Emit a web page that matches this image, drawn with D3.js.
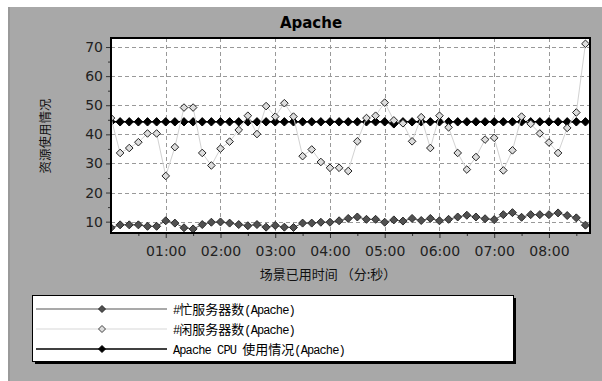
<!DOCTYPE html>
<html><head><meta charset="utf-8">
<script src="https://cdn.jsdelivr.net/npm/d3@7"></script>
<style>html,body{margin:0;padding:0;background:#fff;}svg{display:block;}</style>
</head><body>
<script>
// ---- data (time in seconds, step 10 s) ----
const times = d3.range(0, 530, 10);
const busyServers = [7.9, 8.9, 8.9, 8.9, 8.4, 8.4, 10.3, 9.5, 7.9, 7.5,
  9.0, 9.8, 9.9, 9.5, 9.0, 8.6, 9.0, 8.1, 8.7, 8.1,
  8.0, 9.5, 9.5, 9.8, 9.8, 10.3, 11.1, 11.6, 10.8, 10.8,
  9.8, 10.6, 10.2, 11.1, 10.4, 11.1, 10.3, 10.8, 11.6, 12.2,
  11.6, 11.0, 10.7, 12.4, 13.1, 11.5, 12.4, 12.4, 12.4, 13.0,
  12.1, 11.3, 8.8];
const idleServers = [45.6, 33.6, 35.3, 37.3, 40.3, 40.3, 25.7, 35.6, 49.2, 49.2,
  33.6, 29.3, 35.1, 37.5, 41.5, 46.4, 40.1, 49.7, 46.1, 50.7,
  46.1, 32.5, 34.8, 30.5, 28.5, 28.5, 27.4, 37.6, 45.6, 46.4,
  50.9, 44.8, 43.8, 37.6, 45.9, 35.3, 46.4, 42.4, 33.6, 27.9,
  32.2, 38.2, 38.8, 27.6, 34.5, 46.1, 43.6, 40.3, 37.2, 33.6,
  42.2, 47.5, 71.1];
const cpuUsage = [44.3, 44.3, 44.3, 44.3, 44.3, 44.3, 44.3, 44.3, 44.3, 44.3,
  44.3, 44.3, 44.3, 44.3, 44.3, 44.3, 44.3, 44.3, 44.3, 44.3,
  44.3, 44.3, 44.3, 44.3, 44.3, 44.3, 44.3, 44.3, 44.3, 44.3,
  44.3, 43.6, 44.3, 44.3, 44.3, 44.3, 44.3, 44.3, 44.3, 44.3,
  44.3, 44.3, 44.3, 44.3, 44.3, 44.3, 44.3, 44.3, 44.3, 44.3,
  44.3, 44.3, 44.3];
const yTicks = [10, 20, 30, 40, 50, 60, 70];
const xTicks = [60, 120, 180, 240, 300, 360, 420, 480];
const xTickLabels = ["01:00", "02:00", "03:00", "04:00", "05:00", "06:00", "07:00", "08:00"];
const seriesNames = ["#忙服务器数", "#闲服务器数", "Apache CPU 使用情况"];
const chartTitle = "Apache";
const xTitle = "场景已用时间 （分:秒）";
const yTitle = "资源使用情况";

const W = 602, H = 381;
const plot = {l: 111, t: 38, r: 590, b: 233};

const svg = d3.select("body").append("svg").attr("width", W).attr("height", H);

// background
svg.append("rect").attr("width", W).attr("height", H).attr("fill", "#fff");
svg.append("rect").attr("x", 8).attr("y", 7).attr("width", W - 8).attr("height", H - 7).attr("fill", "#a8a8a8");
svg.append("rect").attr("x", 8).attr("y", 7).attr("width", 2).attr("height", H - 7).attr("fill", "#9a9a9a");

const x = d3.scaleLinear().domain([0, 525]).range([plot.l, plot.r]);
const y = d3.scaleLinear().domain([6.1, 73.1]).range([plot.b, plot.t]);

// title
svg.append("text").attr("x", 311).attr("y", 28).attr("text-anchor", "middle")
  .attr("font-family", "DejaVu Sans").attr("font-weight", "bold").attr("font-size", 15)
  .attr("fill", "#000").text(chartTitle);

// plot background
svg.append("rect").attr("x", plot.l).attr("y", plot.t).attr("width", plot.r - plot.l).attr("height", plot.b - plot.t).attr("fill", "#fff");

// grid
const grid = svg.append("g").attr("stroke", "#999").attr("stroke-dasharray", "4,3").attr("stroke-width", 1);
yTicks.forEach(v => grid.append("line").attr("x1", plot.l).attr("x2", plot.r)
  .attr("y1", Math.round(y(v)) + 0.5).attr("y2", Math.round(y(v)) + 0.5));
xTicks.forEach(v => grid.append("line").attr("y1", plot.t).attr("y2", plot.b)
  .attr("x1", Math.round(x(v)) + 0.5).attr("x2", Math.round(x(v)) + 0.5));

// axes
const yAxis = d3.axisLeft(y).tickValues(yTicks).tickSize(5).tickPadding(3);
const gy = svg.append("g").attr("transform", `translate(${plot.l},0)`).call(yAxis);
gy.select(".domain").remove();
gy.selectAll("text").attr("font-family", "DejaVu Sans").attr("font-size", 14).attr("fill", "#222");
gy.selectAll("line").attr("stroke", "#333");
const yMinor = svg.append("g").attr("transform", `translate(${plot.l},0)`)
  .call(d3.axisLeft(y).tickValues(d3.range(15, 75, 10)).tickSize(3).tickFormat(""));
yMinor.select(".domain").remove();
yMinor.selectAll("line").attr("stroke", "#333");

const xAxis = d3.axisBottom(x).tickValues(xTicks).tickFormat((d, i) => xTickLabels[i]).tickSize(5).tickPadding(8);
const gx = svg.append("g").attr("transform", `translate(0,${plot.b})`).call(xAxis);
gx.select(".domain").remove();
gx.selectAll("text").attr("font-family", "DejaVu Sans").attr("font-size", 14).attr("fill", "#222");
gx.selectAll("line").attr("stroke", "#333");
const xMinor = svg.append("g").attr("transform", `translate(0,${plot.b})`)
  .call(d3.axisBottom(x).tickValues(d3.range(30, 525, 60)).tickSize(3).tickFormat(""));
xMinor.select(".domain").remove();
xMinor.selectAll("line").attr("stroke", "#333");

// axis titles
svg.append("text").attr("x", 328).attr("y", 279).attr("text-anchor", "middle")
  .attr("font-family", "Noto Sans CJK SC").attr("font-size", 13).attr("fill", "#111").text(xTitle);
svg.append("text").attr("transform", "translate(50,136) rotate(-90)").attr("text-anchor", "middle")
  .attr("font-family", "Noto Sans CJK SC").attr("font-size", 12.5).attr("fill", "#111").text(yTitle);

// clip
svg.append("clipPath").attr("id", "clip").append("rect")
  .attr("x", plot.l).attr("y", plot.t).attr("width", plot.r - plot.l).attr("height", plot.b - plot.t);
const g = svg.append("g").attr("clip-path", "url(#clip)");

const diamond = r => `M0,${-r}L${r},0L0,${r}L${-r},0Z`;
const line = d3.line().x((d, i) => x(times[i])).y(d => y(d));

function drawSeries(vals, lineColor, lineW, fill, stroke, r) {
  g.append("path").datum(vals).attr("d", line).attr("fill", "none")
    .attr("stroke", lineColor).attr("stroke-width", lineW);
  g.append("g").selectAll("path").data(vals).join("path")
    .attr("transform", (d, i) => `translate(${x(times[i])},${y(d)})`)
    .attr("d", diamond(r)).attr("fill", fill).attr("stroke", stroke).attr("stroke-width", 1);
}
drawSeries(cpuUsage, "#000", 1.5, "#000", "#000", 4.2);
drawSeries(busyServers, "#555", 1, "#505050", "#2a2a2a", 4);
drawSeries(idleServers, "#d2d2d2", 1, "#dcdcdc", "#222", 3.8);

// plot border
svg.append("rect").attr("x", plot.l).attr("y", plot.t).attr("width", plot.r - plot.l).attr("height", plot.b - plot.t)
  .attr("fill", "none").attr("stroke", "#000").attr("stroke-width", 2);

// legend
const lg = {x: 32, y: 295, w: 481, h: 66};
svg.append("rect").attr("x", lg.x + 3).attr("y", lg.y + 3).attr("width", lg.w).attr("height", lg.h).attr("fill", "#000");
svg.append("rect").attr("x", lg.x + 0.5).attr("y", lg.y + 0.5).attr("width", lg.w).attr("height", lg.h)
  .attr("fill", "#fff").attr("stroke", "#000");
const legendStyles = [
  {line: "#555", lw: 1.2, fill: "#505050", stroke: "#2a2a2a"},
  {line: "#d8d8d8", lw: 1.2, fill: "#dcdcdc", stroke: "#444"},
  {line: "#000", lw: 1.5, fill: "#000", stroke: "#000"}
];
seriesNames.forEach((name, i) => {
  const cy = 309 + i * 20;
  const st = legendStyles[i];
  svg.append("line").attr("x1", 36).attr("x2", 167).attr("y1", cy).attr("y2", cy)
    .attr("stroke", st.line).attr("stroke-width", st.lw);
  svg.append("path").attr("transform", `translate(102,${cy})`).attr("d", diamond(3.5))
    .attr("fill", st.fill).attr("stroke", st.stroke);
  const t = svg.append("text").attr("x", 173).attr("y", cy + 4.5).attr("fill", "#000");
  const parts = (name + "(Apache)").match(/[\u4e00-\u9fff]+|[^\u4e00-\u9fff]+/g);
  parts.forEach(p => {
    const cjk = /[\u4e00-\u9fff]/.test(p);
    t.append("tspan").attr("font-family", cjk ? "Noto Sans CJK SC" : "Liberation Mono")
      .attr("font-size", cjk ? 13 : 12).attr("letter-spacing", cjk ? 0 : -0.9)
      .attr("xml:space", "preserve").style("white-space", "pre").text(p);
  });
});
</script>
</body></html>
